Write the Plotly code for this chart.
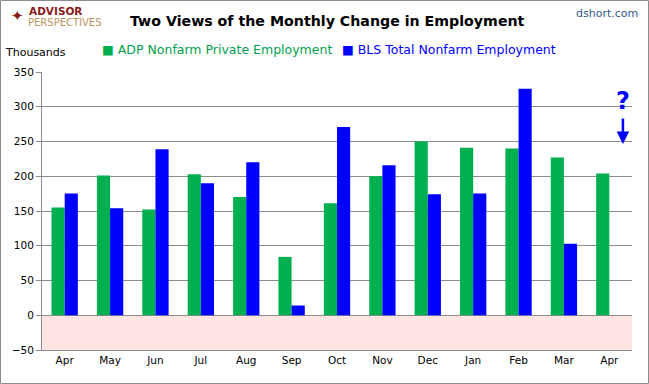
import plotly.graph_objects as go

months = ["Apr", "May", "Jun", "Jul", "Aug", "Sep", "Oct", "Nov", "Dec", "Jan", "Feb", "Mar", "Apr"]
adp = [155, 201, 152, 203, 170, 84, 161, 200, 250, 241, 240, 227, 204]
bls = [175, 154, 239, 190, 220, 14, 271, 216, 174, 175, 326, 103, None]
y_ticks = [-50, 0, 50, 100, 150, 200, 250, 300, 350]
names = ["ADP Nonfarm Private Employment", "BLS Total Nonfarm Employment"]

W, H = 649, 384
L, R, T, B = 42, 17, 72, 34
pw, ph = W - L - R, H - T - B

x = list(range(len(months)))
GREEN = "#00B050"
GREEN_TXT = "#00A050"
BLUE = "#0000FF"
FONT = "DejaVu Sans"

fig = go.Figure()
fig.add_trace(go.Bar(x=x, y=adp, name=names[0],
                     marker=dict(color=GREEN, line=dict(width=0))))
fig.add_trace(go.Bar(x=x, y=bls, name=names[1],
                     marker=dict(color=BLUE, line=dict(width=0))))

def px_x(p):
    return (p - L) / pw

def px_y(p):
    return 1 - (p - T) / ph

shapes = [
    dict(type="rect", xref="paper", yref="y", x0=0, x1=1, y0=-50, y1=0,
         fillcolor="#FFE4E4", line=dict(width=0), layer="below"),
    dict(type="rect", xref="paper", yref="paper",
         x0=px_x(0.5), x1=px_x(W - 0.5), y0=px_y(H - 0.5), y1=px_y(0.5),
         line=dict(color="#8c8c8c", width=1), fillcolor="rgba(0,0,0,0)"),
]

def txt(text, xp, yp, size, color, xanchor="left", **kw):
    return dict(text=text, xref="paper", yref="paper", x=px_x(xp), y=px_y(yp),
                xanchor=xanchor, yanchor="middle", showarrow=False,
                font=dict(family=FONT, size=size, color=color), **kw)

annotations = [
    txt("<b>Two Views of the Monthly Change in Employment</b>", 327, 21, 14.2, "black", "center"),
    txt("Thousands", 3, 53, 11, "black"),
    txt("dshort.com", 640, 14, 11, "#34578C", "right"),
    txt("<b>ADVISOR</b>", 27, 11, 10.5, "#8B1A1A"),
    txt("PERSPECTIVES", 26, 22, 10, "#B8955A"),
    txt("✦", 17, 16, 15, "#8B1A1A", "center"),
    txt("<span style='color:%s'>■</span> %s" % (GREEN, names[0]), 100, 49, 12.5, GREEN_TXT),
    txt("<span style='color:%s'>■</span> %s" % (BLUE, names[1]), 340, 49, 12.5, BLUE),
    dict(text="<b>?</b>", xref="x", yref="paper", x=12.3, y=px_y(101), yanchor="middle",
         xanchor="center", showarrow=False, font=dict(family=FONT, size=24, color=BLUE)),
    dict(text="", xref="x", yref="paper", x=12.3, y=px_y(144), ax=0, ay=-27,
         showarrow=True, arrowhead=2, arrowsize=1, arrowwidth=2.5, arrowcolor=BLUE),
]

fig.update_layout(
    width=W, height=H,
    margin=dict(l=L, r=R, t=T, b=B, pad=0, autoexpand=False),
    paper_bgcolor="white", plot_bgcolor="white",
    barmode="group", bargap=0.42, bargroupgap=0,
    font=dict(family=FONT, size=11, color="black"),
    showlegend=False,
    xaxis=dict(tickmode="array", tickvals=x, ticktext=months, range=[-0.5, len(months) - 0.5],
               showgrid=False, showline=True, linecolor="#8c8c8c", ticks="", zeroline=False,
               automargin=False, tickfont=dict(family=FONT, size=10.5)),
    yaxis=dict(range=[-50, 350], tickvals=y_ticks, showgrid=True, gridcolor="#8c8c8c",
               gridwidth=1, showline=True, linecolor="#8c8c8c", ticks="outside", ticklen=5,
               tickcolor="#8c8c8c", zeroline=True, zerolinecolor="#8c8c8c", zerolinewidth=1,
               automargin=False, tickfont=dict(family=FONT, size=10.5)),
    shapes=shapes, annotations=annotations,
)

fig.write_html("out.html", config={"displayModeBar": False},
               post_script="document.body.style.margin='0';document.body.style.padding='0';")
